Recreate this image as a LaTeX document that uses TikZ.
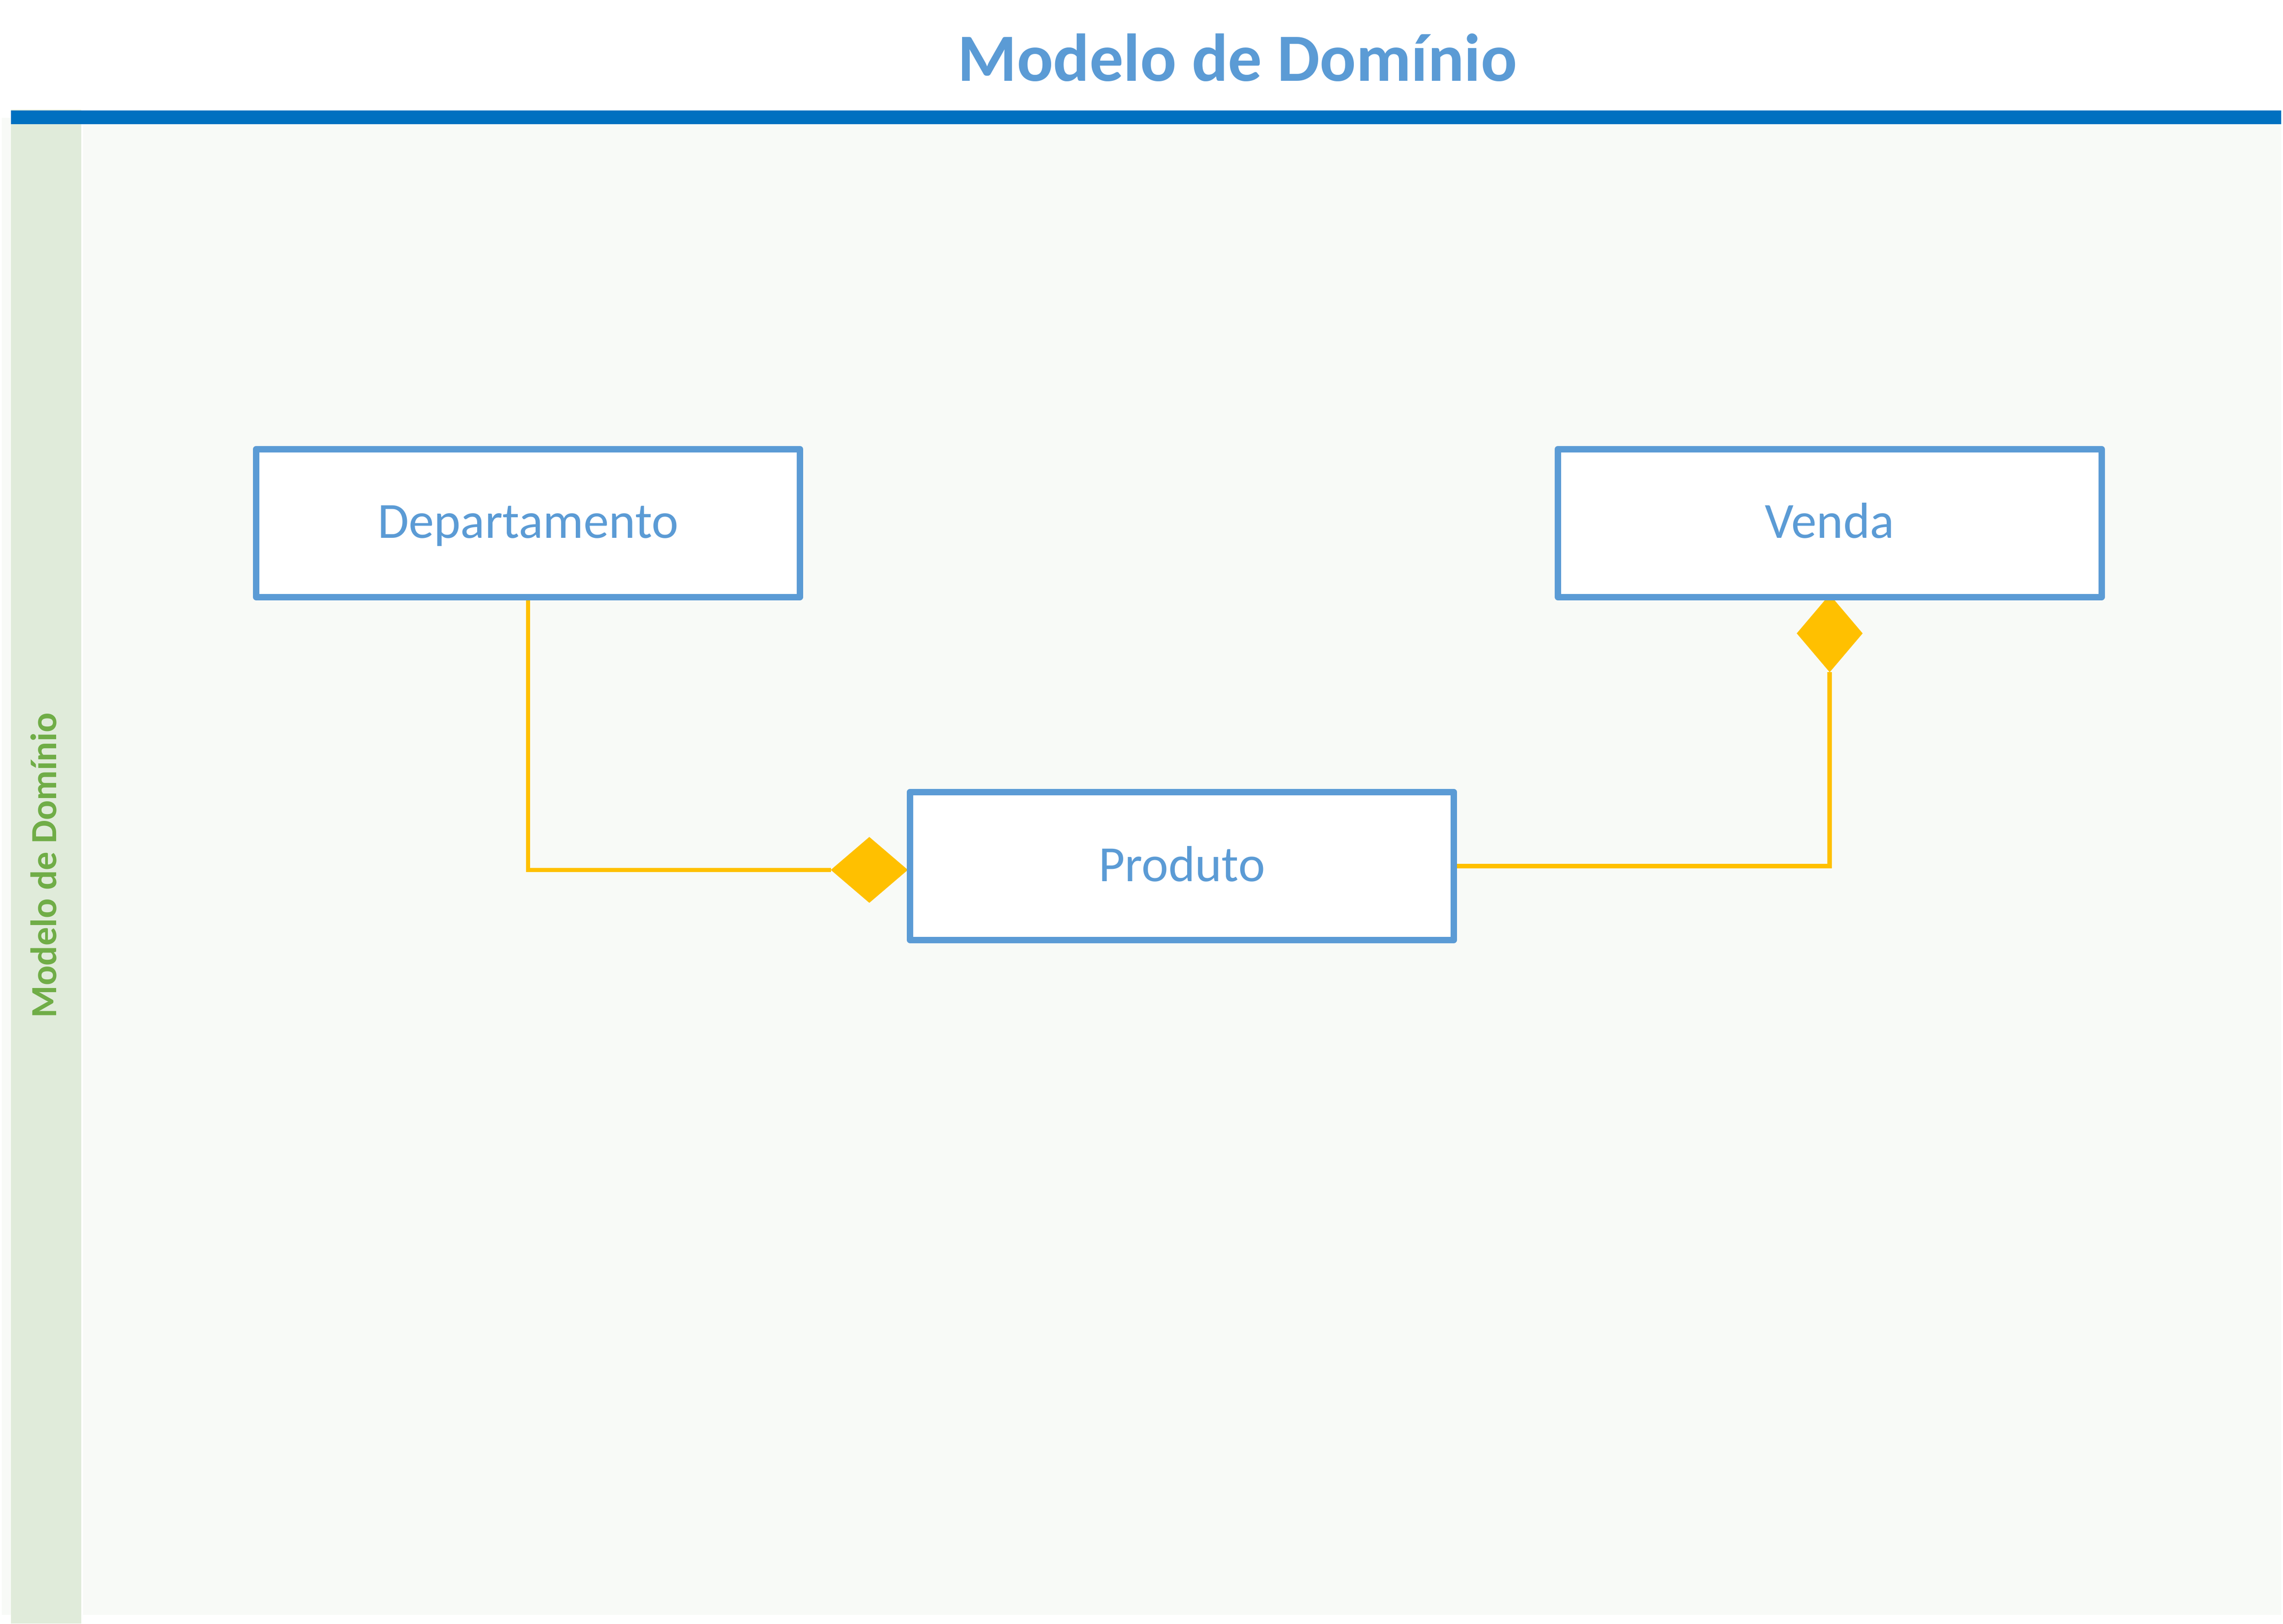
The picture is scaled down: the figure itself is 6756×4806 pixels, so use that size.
\documentclass[tikz,border=0pt]{standalone}
\usepackage{fontspec}
\setmainfont{Carlito}
\usetikzlibrary{calc}
\pgfdeclarelayer{bg}
\pgfdeclarelayer{conn}
\pgfsetlayers{bg,conn,main}
\definecolor{boxblue}{HTML}{5B9BD5}
\definecolor{rulblue}{HTML}{0070C0}
\definecolor{ambar}{HTML}{FFC000}
\definecolor{bandgreen}{HTML}{E0EBDA}
\definecolor{lblgreen}{HTML}{70AD47}
\definecolor{paper}{HTML}{F8FAF7}
\tikzset{
  classbox/.style={draw=boxblue, line width=1.9pt, line join=round, fill=white,
    rectangle, minimum width=160.9pt, minimum height=43.8pt, inner sep=0pt,
    text=boxblue, font=\fontsize{15pt}{18pt}\selectfont, text height=9pt, text depth=0pt},
  link/.style={draw=ambar, line width=1.3pt},
  compdiamond/.style={fill=ambar, draw=none}
}
\begin{document}
\begin{tikzpicture}[x=0.1pt, y=-0.1pt]
\useasboundingbox (0,0) rectangle (6756,4806);
\begin{pgfonlayer}{bg}
\fill[white] (0,0) rectangle (6756,4806);
\fill[paper] (5,349) rectangle (6750,4779);
\fill[white] (241,367) rectangle (246,4779);
\fill[bandgreen] (33,325) rectangle (241,4805);
\fill[rulblue] (33,327) rectangle (6750,367);
\end{pgfonlayer}
% title
\node[anchor=base, text=boxblue, font=\fontsize{20pt}{24pt}\selectfont\bfseries, inner sep=0pt] (title) at (3662,240) {Modelo de Domínio};
% lane label
\node[anchor=base, rotate=90, text=lblgreen, font=\fontsize{10.9pt}{13pt}\selectfont\bfseries, inner sep=0pt] (lane) at (167,2561) {Modelo de Domínio};
% classes
\node[classbox] (D) at (1562.5,1548) {Departamento};
\node[classbox] (V) at (5414.5,1548) {Venda};
\node[classbox] (P) at (3497.5,2563) {Produto};
% connectors
\begin{pgfonlayer}{conn}
  \coordinate (ptip) at ($(P.west)+(3,11.5)$);
  \coordinate (pend) at ($(ptip)+(-228,0)$);
  \fill[compdiamond] (ptip) -- ++(-114,-97.5) -- ++(-114,97.5) -- ++(114,97.5) -- cycle;
  \draw[link] (D.south) |- (pend);
  \coordinate (vtip) at ($(V.south)+(0,-17)$);
  \coordinate (vend) at ($(vtip)+(0,230)$);
  \fill[compdiamond] (vtip) -- ++(-97.5,115) -- ++(97.5,115) -- ++(97.5,-115) -- cycle;
  \draw[link] (vend) |- (P.east);
\end{pgfonlayer}
\end{tikzpicture}
\end{document}
